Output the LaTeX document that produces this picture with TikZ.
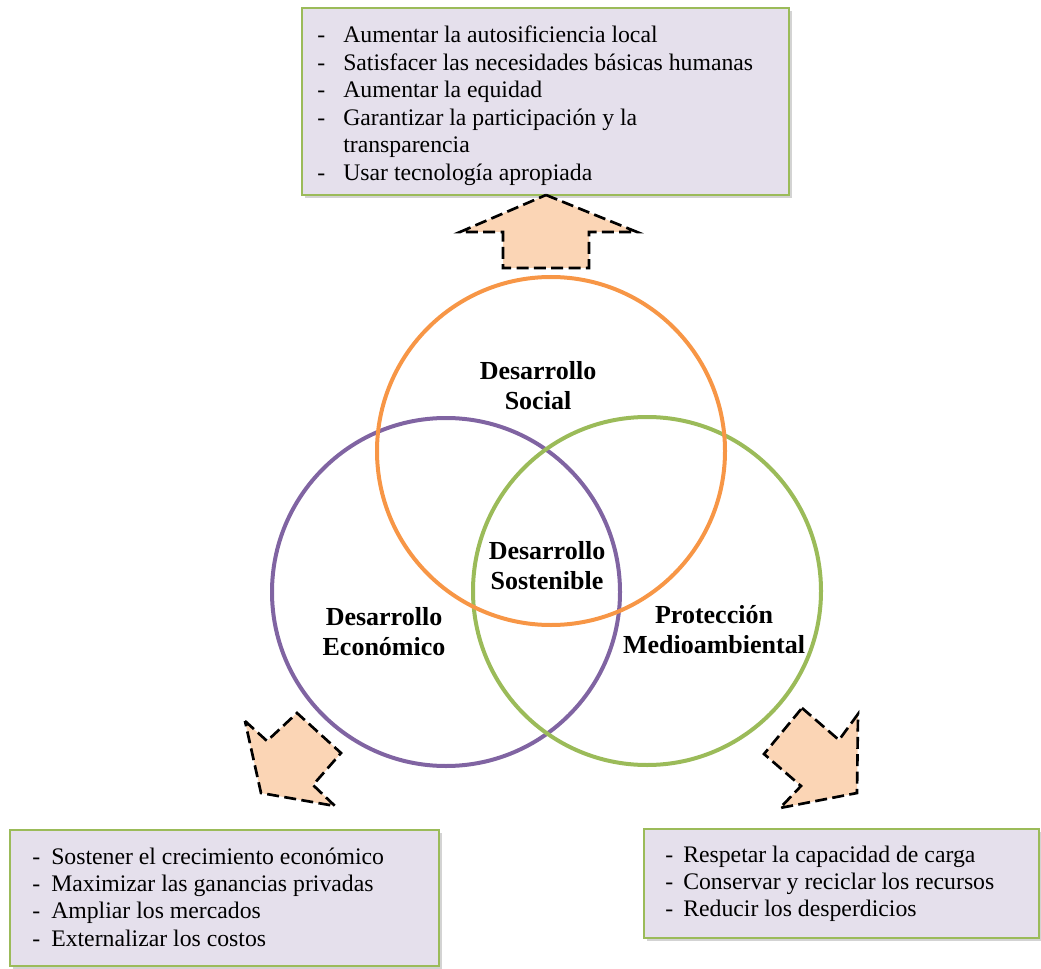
\documentclass[tikz,border=0pt]{standalone}
\usepackage{fontspec}
\setmainfont{Liberation Serif}
\usetikzlibrary{shadows}
\definecolor{boxfill}{HTML}{E5E0EC}
\definecolor{boxedge}{HTML}{9BBB59}
\definecolor{cOrange}{HTML}{F79646}
\definecolor{cPurple}{HTML}{8064A2}
\definecolor{cGreen}{HTML}{9BBB59}
\definecolor{arrowfill}{HTML}{FBD5B5}
\newcommand\lstdash[2]{\makebox[#1][l]{-}#2}
\begin{document}
\begin{tikzpicture}[x=0.75pt,y=-0.75pt,
 infobox/.style={draw=boxedge, line width=1.6pt, fill=boxfill,
   drop shadow={shadow xshift=2.5pt, shadow yshift=-2.5pt, opacity=0.35}},
 ring/.style={line width=3pt},
 bigarrow/.style={draw=black, fill=arrowfill, line width=2pt, dash pattern=on 9pt off 4pt, line join=miter},
 listtext/.style={anchor=base west, inner sep=0pt, font=\fontsize{17.8}{20.6}\selectfont},
 ringlabel/.style={align=center, font=\fontsize{19.5}{22.5}\selectfont\bfseries, inner sep=0pt}
]
\useasboundingbox (0,0) rectangle (1041,969);

% boxes
\path[infobox] (302,8) rectangle (789,195);
\path[infobox] (10,830) rectangle (439,966);
\path[infobox] (644,829) rectangle (1039,938);

\node[listtext] (tS) at (317,43) {\begin{tabular}[t]{@{}l@{}}
\lstdash{19.5pt}{Aumentar la autosificiencia local}\\
\lstdash{19.5pt}{Satisfacer las necesidades básicas humanas}\\
\lstdash{19.5pt}{Aumentar la equidad}\\
\lstdash{19.5pt}{Garantizar la participación y la}\\
\hspace{19.5pt}transparencia\\
\lstdash{19.5pt}{Usar tecnología apropiada}
\end{tabular}};

\node[listtext] (tE) at (32,864) {\begin{tabular}[t]{@{}l@{}}
\lstdash{14.25pt}{Sostener el crecimiento económico}\\
\lstdash{14.25pt}{Maximizar las ganancias privadas}\\
\lstdash{14.25pt}{Ampliar los mercados}\\
\lstdash{14.25pt}{Externalizar los costos}
\end{tabular}};

\node[listtext] (tM) at (665,862) {\begin{tabular}[t]{@{}l@{}}
\lstdash{13.5pt}{Respetar la capacidad de carga}\\
\lstdash{13.5pt}{Conservar y reciclar los recursos}\\
\lstdash{13.5pt}{Reducir los desperdicios}
\end{tabular}};

% arrows
\path[bigarrow] (546,195) -- (637,232) -- (589,232) -- (589,268) -- (503,268) -- (503,232) -- (460,232) -- cycle;
\path[bigarrow] (245,721) -- (267,741) -- (297,713) -- (341,753) -- (313,785) -- (335,806) -- (261,793) -- cycle;
\path[bigarrow] (802,708) -- (839,740) -- (858,714) -- (857,793) -- (780,808) -- (801,786) -- (764,754) -- cycle;

% circles
\draw[ring, cPurple] (446,592) circle (174);
\draw[ring, cGreen] (647,591) circle (174);
\draw[ring, cOrange] (551,451) circle (174);

% labels
\node[ringlabel] (social) at (538,386) {Desarrollo\\Social};
\node[ringlabel] (sost) at (547,566) {Desarrollo\\Sostenible};
\node[ringlabel] (econ) at (384,632) {Desarrollo\\Económico};
\node[ringlabel] (medio) at (714,630) {Protección\\Medioambiental};
\end{tikzpicture}
\end{document}
